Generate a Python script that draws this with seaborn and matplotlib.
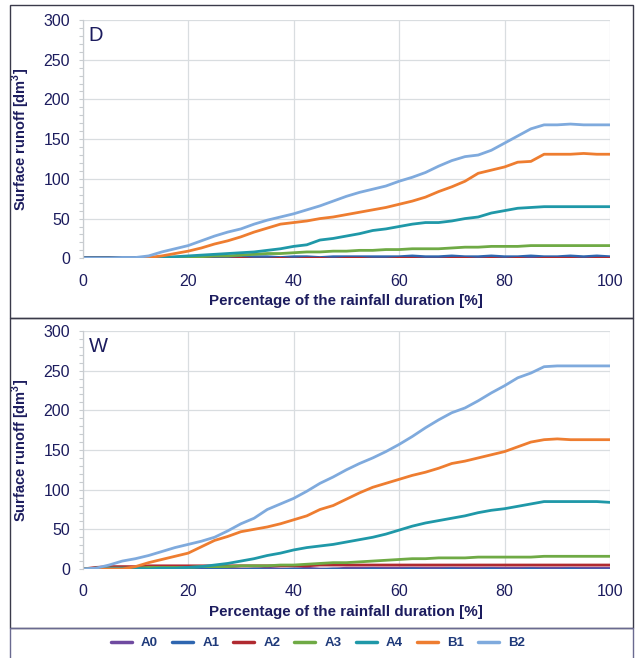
import matplotlib
matplotlib.use("Agg")
import matplotlib.pyplot as plt
import seaborn as sns
import pandas as pd
from matplotlib.patches import Rectangle
from matplotlib.lines import Line2D

x = [0, 2.5, 5, 7.5, 10, 12.5, 15, 17.5, 20, 22.5, 25, 27.5, 30, 32.5, 35, 37.5, 40, 42.5, 45, 47.5,
     50, 52.5, 55, 57.5, 60, 62.5, 65, 67.5, 70, 72.5, 75, 77.5, 80, 82.5, 85, 87.5, 90, 92.5, 95, 97.5, 100]

series_names = ["A0", "A1", "A2", "A3", "A4", "B1", "B2"]

D_A0 = [0,0,0,0,0,0,0,0,0,0,0,0,0,0,0,0,0,0,0,1,0,0,0,0,0,0,0,0,0,0,0,0,0,0,0,0,0,0,0,0,0]
D_A1 = [1,1,1,1,1,1,1,1,1,1,1,2,1,2,2,1,2,2,1,2,2,2,2,2,2,3,2,2,3,2,2,3,2,2,3,2,2,3,2,3,2]
D_A2 = [0,0,0,0,0,-1,0,-1,-1,0,-1,-1,0,-1,-1,0,-1,0,0,-1,0,0,-1,-1,0,0,-1,-1,0,0,-1,0,-1,0,-1,0,0,0,-1,0,0]
D_A3 = [0,0,0,0,0,0,1,1,2,2,3,3,4,5,6,6,7,8,8,9,9,10,10,11,11,12,12,12,13,14,14,15,15,15,16,16,16,16,16,16,16]
D_A4 = [0,0,0,0,0,0,1,2,3,4,5,6,7,8,10,12,15,17,23,25,28,31,35,37,40,43,45,45,47,50,52,57,60,63,64,65,65,65,65,65,65]
D_B1 = [0,0,0,0,0,1,3,6,9,13,18,22,27,33,38,43,45,47,50,52,55,58,61,64,68,72,77,84,90,97,107,111,115,121,122,131,131,131,132,131,131]
D_B2 = [0,0,0,1,1,3,8,12,16,22,28,33,37,43,48,52,56,61,66,72,78,83,87,91,97,102,108,116,123,128,130,136,145,154,163,168,168,169,168,168,168]

W_A0 = [0,0,0,0,0,0,0,0,0,0,0,1,0,0,1,0,0,1,0,0,1,1,1,1,1,1,1,1,1,1,1,1,1,1,1,1,1,1,1,1,1]
W_A1 = [0,0,-1,0,-1,0,-1,-1,0,-1,0,-1,-1,0,-1,-1,0,-1,-1,0,-1,-1,0,-1,-1,0,-1,-1,0,-1,-1,0,-1,-1,0,-1,-1,0,-1,-1,-1]
W_A2 = [0,2,3,3,3,4,4,4,4,4,4,4,4,4,4,4,4,4,5,5,5,5,5,5,5,5,5,5,5,5,5,5,5,5,5,5,5,5,5,5,5]
W_A3 = [0,1,1,1,1,2,2,2,2,3,3,3,4,4,4,5,5,6,7,8,8,9,10,11,12,13,13,14,14,14,15,15,15,15,15,16,16,16,16,16,16]
W_A4 = [0,1,1,1,1,0,1,1,2,3,5,7,10,13,17,20,24,27,29,31,34,37,40,44,49,54,58,61,64,67,71,74,76,79,82,85,85,85,85,85,84]
W_B1 = [0,0,0,0,3,8,12,16,20,28,36,41,47,50,53,57,62,67,75,80,88,96,103,108,113,118,122,127,133,136,140,144,148,154,160,163,164,163,163,163,163]
W_B2 = [0,1,5,10,13,17,22,27,31,35,40,48,57,64,75,82,89,98,108,116,125,133,140,148,157,167,178,188,197,203,212,222,231,241,247,255,256,256,256,256,256]

panels = {
    "D": [D_A0, D_A1, D_A2, D_A3, D_A4, D_B1, D_B2],
    "W": [W_A0, W_A1, W_A2, W_A3, W_A4, W_B1, W_B2],
}

colors = ["#6F4AA0", "#2E66B0", "#B02A30", "#6FAA45", "#1F98A8", "#EE7D30", "#7FAADD"]
palette = dict(zip(series_names, colors))

sns.set_theme(style="white")
plt.rcParams["font.family"] = ["Liberation Sans", "DejaVu Sans"]
navy = "#1C1C5E"

fig = plt.figure(figsize=(6.36, 6.58), dpi=100)

ax_rects = [
    [82.7 / 636, 1 - 258.3 / 658, (610 - 82.7) / 636, 238.3 / 658],
    [82.7 / 636, 1 - 569 / 658, (610 - 82.7) / 636, 238 / 658],
]

for (label, vals), rect in zip(panels.items(), ax_rects):
    rows = []
    for name, v in zip(series_names, vals):
        for xi, yi in zip(x, v):
            rows.append({"x": xi, "y": yi, "series": name})
    df = pd.DataFrame(rows)
    ax = fig.add_axes(rect)
    sns.lineplot(data=df, x="x", y="y", hue="series", palette=palette,
                 hue_order=series_names, linewidth=2.0, ax=ax, legend=False)
    ax.set_xlim(0, 100)
    ax.set_ylim(0, 300)
    ax.set_xticks(range(0, 101, 20))
    ax.set_yticks(range(0, 301, 50))
    ax.set_yticks(range(0, 301, 10), minor=True)
    ax.grid(True, which="major", color="#D9DDE0", linewidth=0.9)
    ax.set_axisbelow(True)
    for s in ["top", "right", "bottom"]:
        ax.spines[s].set_visible(False)
    ax.spines["left"].set_color("#C8CCD0")
    ax.spines["left"].set_linewidth(0.9)
    ax.tick_params(axis="y", which="both", left=True, color="#C8CCD0", length=3, width=0.8)
    ax.tick_params(axis="x", bottom=False)
    ax.tick_params(labelsize=11.5, labelcolor=navy)
    ax.tick_params(axis="y", pad=6)
    ax.tick_params(axis="x", pad=5)
    ax.set_xlabel("Percentage of the rainfall duration [%]", fontsize=10.9,
                  fontweight="bold", color=navy, labelpad=4)
    ax.set_ylabel("Surface runoff [dm$^{\\mathregular{3}}$]", fontsize=10.5,
                  fontweight="bold", color=navy, labelpad=8)
    ax.text(0.011, 0.975, label, transform=ax.transAxes, fontsize=14.5,
            color=navy, va="top", ha="left")

# panel borders
border = "#3A3A4A"
fig.patches.append(Rectangle((10 / 636, 1 - 318 / 658), 623 / 636, 313 / 658,
                             transform=fig.transFigure, fill=False, ec=border, lw=1.0))
fig.patches.append(Rectangle((10 / 636, 1 - 628 / 658), 623 / 636, 310 / 658,
                             transform=fig.transFigure, fill=False, ec=border, lw=1.0))
fig.patches.append(Rectangle((10 / 636, -0.01), 623 / 636, 1 - 628 / 658 + 0.01,
                             transform=fig.transFigure, fill=False, ec="#6A6A90", lw=1.0))

handles = [Line2D([0], [0], color=palette[n], lw=2.5) for n in series_names]
leg = fig.legend(handles, series_names, loc="center", bbox_to_anchor=(0.5, 1 - 643 / 658),
                 ncol=7, frameon=False, handlelength=1.6, handletextpad=0.7,
                 columnspacing=1.05, prop={"weight": "bold", "size": 9.5})
for t in leg.get_texts():
    t.set_color("#1F3A7A")

fig.savefig("out.png", dpi=100)
